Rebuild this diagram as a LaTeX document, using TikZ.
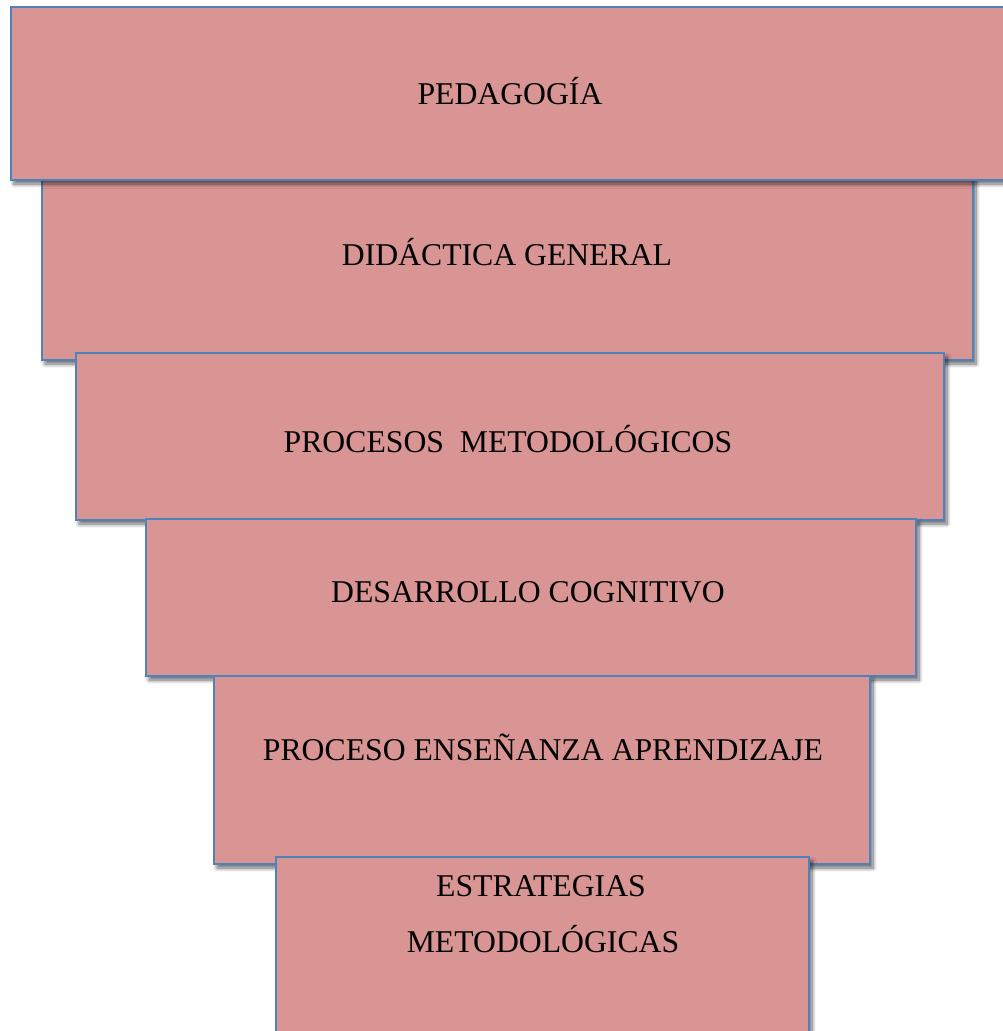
\documentclass[tikz,border=0pt]{standalone}
\usepackage{fontspec}
\setmainfont{Liberation Serif}
\usetikzlibrary{shadows.blur}
\definecolor{boxfill}{HTML}{D99594}
\definecolor{boxline}{HTML}{4F81BD}
\tikzset{
  tier/.style={draw=boxline, fill=boxfill, line width=2.6pt, rectangle, inner sep=0pt,
    blur shadow={shadow xshift=3pt, shadow yshift=-4pt, shadow blur steps=8, shadow blur radius=4pt, shadow opacity=60}},
  label/.style={anchor=base, inner sep=0pt, font=\fontsize{31.7}{38}\selectfont, text=black}
}
\begin{document}
\begin{tikzpicture}[x=1pt,y=-1pt]
\useasboundingbox (0,0) rectangle (1003,1031);
\node[tier, minimum width=931, minimum height=190] (b2) at (507.5,265) {};
\node[tier, minimum width=1001, minimum height=173] (b1) at (511.5,93.5) {};
\node[tier, minimum width=868, minimum height=167] (b3) at (510,436.5) {};
\node[tier, minimum width=770, minimum height=157] (b4) at (531,597.5) {};
\node[tier, minimum width=656, minimum height=188] (b5) at (542,770) {};
\node[tier, minimum width=533, minimum height=190] (b6) at (542.5,952) {};
\node[label] (t1) at (510,104) {PEDAGOGÍA};
\node[label] (t2) at (507,265) {DIDÁCTICA GENERAL};
\node[label] (t3) at (508,452) {PROCESOS\ \ METODOLÓGICOS};
\node[label] (t4) at (528,602) {DESARROLLO COGNITIVO};
\node[label] (t5) at (543,760) {PROCESO ENSEÑANZA APRENDIZAJE};
\node[label] (t6a) at (541,896) {ESTRATEGIAS};
\node[label] (t6b) at (543,952) {METODOLÓGICAS};
\end{tikzpicture}
\end{document}
